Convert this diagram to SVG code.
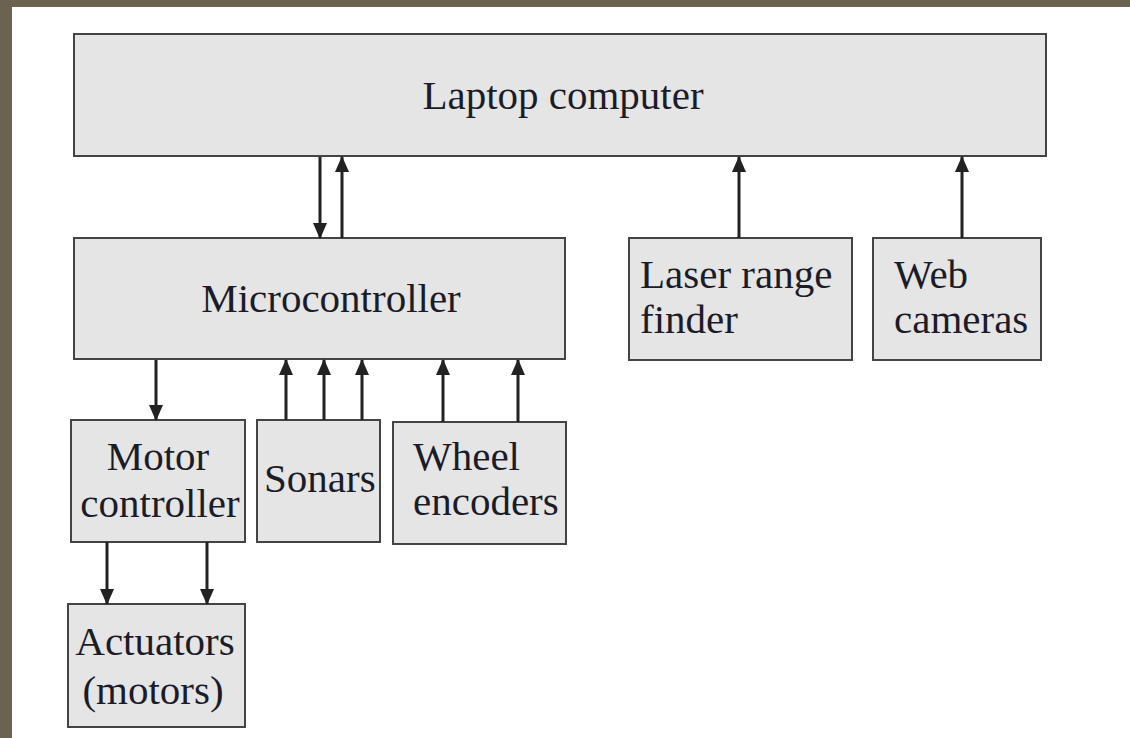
<svg xmlns="http://www.w3.org/2000/svg" width="1130" height="738" viewBox="0 0 1130 738">
  <style>
    .box { fill: #e5e5e5; stroke: #444; stroke-width: 2; }
    .lbl { font-family: Liberation Serif, serif; font-size: 41px; fill: #1c1c28; }
    .mid { text-anchor: middle; }
    .wire { stroke: #222; stroke-width: 3; fill: none; }
  </style>
  <defs>
    <marker id="head" viewBox="0 0 16 14" refX="15" refY="7" markerWidth="16" markerHeight="14" markerUnits="userSpaceOnUse" orient="auto">
      <path d="M0,0 L16,7 L0,14 Z" fill="#222"/>
    </marker>
  </defs>

  <!-- frame -->
  <rect x="0" y="0" width="1130" height="738" fill="#6b6250"/>
  <rect x="12" y="7" width="1118" height="731" fill="#ffffff"/>

  <g id="laptop">
    <rect class="box" x="74" y="34" width="972" height="122"/>
    <text class="lbl mid" x="563" y="109">Laptop computer</text>
  </g>

  <g id="microcontroller">
    <rect class="box" x="74" y="238" width="491" height="121"/>
    <text class="lbl mid" x="331" y="312">Microcontroller</text>
  </g>

  <g id="laser">
    <rect class="box" x="629" y="238" width="223" height="122"/>
    <text class="lbl" x="640" y="288">Laser range</text>
    <text class="lbl" x="640" y="333">finder</text>
  </g>

  <g id="webcams">
    <rect class="box" x="873" y="238" width="168" height="122"/>
    <text class="lbl" x="894" y="288">Web</text>
    <text class="lbl" x="894" y="333">cameras</text>
  </g>

  <g id="motor-controller">
    <rect class="box" x="71" y="420" width="174" height="122"/>
    <text class="lbl mid" x="158" y="470">Motor</text>
    <text class="lbl mid" x="160" y="517">controller</text>
  </g>

  <g id="sonars">
    <rect class="box" x="257" y="420" width="123" height="122"/>
    <text class="lbl" x="264" y="492">Sonars</text>
  </g>

  <g id="wheel-encoders">
    <rect class="box" x="393" y="422" width="173" height="122"/>
    <text class="lbl" x="413" y="470">Wheel</text>
    <text class="lbl" x="413" y="515">encoders</text>
  </g>

  <g id="actuators">
    <rect class="box" x="68" y="604" width="177" height="123"/>
    <text class="lbl mid" x="155" y="655">Actuators</text>
    <text class="lbl mid" x="153" y="704">(motors)</text>
  </g>

  <g id="connectors">
    <line class="wire" x1="320" y1="157" x2="320" y2="238" marker-end="url(#head)"/>
    <line class="wire" x1="342" y1="238" x2="342" y2="157" marker-end="url(#head)"/>
    <line class="wire" x1="739" y1="238" x2="739" y2="157" marker-end="url(#head)"/>
    <line class="wire" x1="962" y1="238" x2="962" y2="157" marker-end="url(#head)"/>
    <line class="wire" x1="156" y1="360" x2="156" y2="420" marker-end="url(#head)"/>
    <line class="wire" x1="286" y1="420" x2="286" y2="360" marker-end="url(#head)"/>
    <line class="wire" x1="324" y1="420" x2="324" y2="360" marker-end="url(#head)"/>
    <line class="wire" x1="362" y1="420" x2="362" y2="360" marker-end="url(#head)"/>
    <line class="wire" x1="443" y1="422" x2="443" y2="360" marker-end="url(#head)"/>
    <line class="wire" x1="518" y1="422" x2="518" y2="360" marker-end="url(#head)"/>
    <line class="wire" x1="107" y1="542" x2="107" y2="604" marker-end="url(#head)"/>
    <line class="wire" x1="207" y1="542" x2="207" y2="604" marker-end="url(#head)"/>
  </g>
</svg>
